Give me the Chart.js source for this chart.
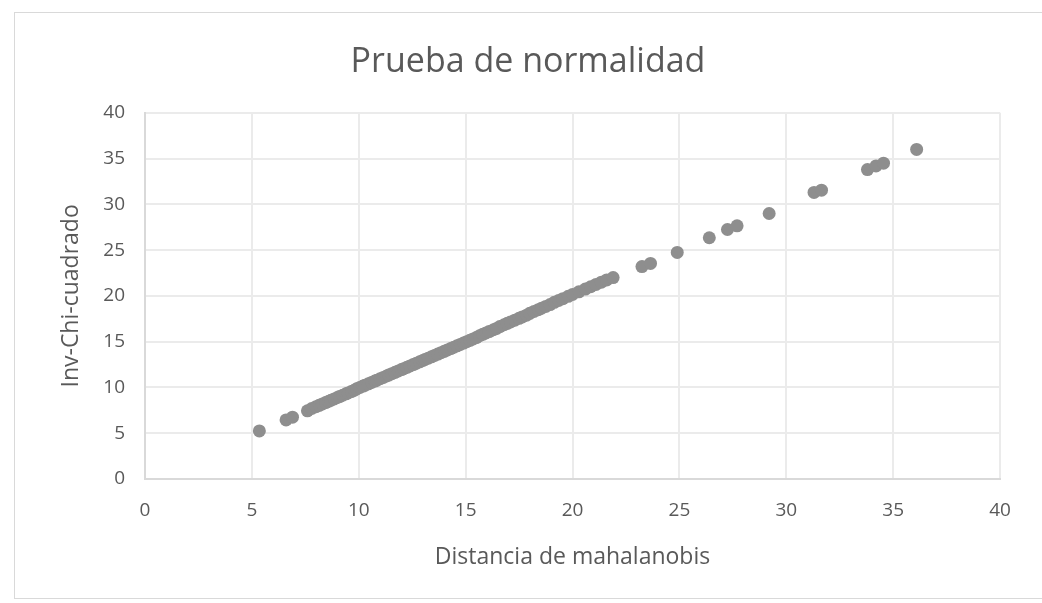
<!DOCTYPE html>
<html>
<head>
<meta charset="utf-8">
<script src="https://cdn.jsdelivr.net/npm/chart.js@4/dist/chart.umd.min.js"></script>
<style>
  html, body { margin: 0; padding: 0; background: #ffffff; }
  #wrap { position: absolute; left: 0; top: 0; width: 1042px; height: 603px; }
</style>
</head>
<body>
<div id="wrap"><canvas id="c" width="1042" height="603"></canvas></div>
<script>
// Distancia de mahalanobis (x values)
const mahalanobis = [
  5.35, 6.6, 6.9, 7.6, 7.8, 8.0, 8.15, 8.3, 8.45, 8.6, 8.7, 8.85, 9.0, 9.1, 9.25, 9.4, 9.5,
  9.65, 9.8, 9.9, 10.05, 10.2, 10.3, 10.45, 10.6, 10.75, 10.85, 11.0, 11.15, 11.3, 11.4,
  11.55, 11.7, 11.85, 12.0, 12.1, 12.25, 12.4, 12.55, 12.7, 12.85, 13.0, 13.1, 13.25, 13.4,
  13.55, 13.7, 13.85, 14.0, 14.15, 14.3, 14.45, 14.6, 14.75, 14.9, 15.05, 15.2, 15.35, 15.5,
  15.65, 15.8, 15.95, 16.1, 16.3, 16.45, 16.6, 16.8, 16.95, 17.1, 17.3, 17.5, 17.65, 17.85,
  18.0, 18.2, 18.4, 18.55, 18.75, 18.95, 19.15, 19.35, 19.55, 19.8, 20.0, 20.3, 20.6, 20.85,
  21.1, 21.35, 21.6, 21.9, 23.25, 23.65, 24.9, 26.4, 27.25, 27.7, 29.2, 31.3, 31.65, 33.8,
  34.2, 34.55, 36.1
];
// Inv-Chi-cuadrado (y values)
const invChi = [
  5.25, 6.45, 6.75, 7.45, 7.7, 7.9, 8.05, 8.2, 8.35, 8.5, 8.6, 8.75, 8.9, 9.0, 9.15, 9.3, 9.4,
  9.55, 9.7, 9.85, 10.0, 10.15, 10.25, 10.4, 10.55, 10.7, 10.8, 10.95, 11.1, 11.25, 11.35,
  11.5, 11.65, 11.8, 11.95, 12.05, 12.2, 12.35, 12.5, 12.65, 12.8, 12.95, 13.05, 13.2, 13.35,
  13.5, 13.65, 13.8, 13.95, 14.1, 14.25, 14.4, 14.55, 14.7, 14.85, 15.0, 15.15, 15.3, 15.45,
  15.65, 15.8, 15.95, 16.1, 16.3, 16.45, 16.65, 16.85, 17.0, 17.15, 17.35, 17.55, 17.7, 17.9,
  18.1, 18.3, 18.5, 18.65, 18.85, 19.05, 19.3, 19.5, 19.7, 19.95, 20.15, 20.45, 20.75, 21.0,
  21.25, 21.5, 21.75, 22.0, 23.2, 23.55, 24.75, 26.35, 27.25, 27.65, 29.0, 31.3, 31.55, 33.8,
  34.2, 34.5, 36.0
];
const xTicks = [0, 5, 10, 15, 20, 25, 30, 35, 40];
const yTicks = [0, 5, 10, 15, 20, 25, 30, 35, 40];

const points = mahalanobis.map((x, i) => ({ x: x, y: invChi[i] }));

const textColor = '#595959';
const fontFam = "'Open Sans', 'Liberation Sans', sans-serif";

const frame = {
  id: 'frame',
  beforeDraw(chart) {
    const ctx = chart.ctx;
    ctx.save();
    ctx.fillStyle = '#ffffff';
    ctx.fillRect(0, 0, chart.width, chart.height);
    ctx.strokeStyle = '#d9d9d9';
    ctx.lineWidth = 1;
    ctx.strokeRect(14.5, 12.5, 1100, 586);
    ctx.restore();
  }
};

new Chart(document.getElementById('c'), {
  type: 'scatter',
  data: {
    datasets: [{
      label: 'Inv-Chi-cuadrado',
      data: points,
      backgroundColor: '#8e8e8e',
      borderColor: '#8e8e8e',
      pointRadius: 6.5,
      pointHoverRadius: 6.5,
      borderWidth: 0
    }]
  },
  options: {
    responsive: false,
    animation: false,
    layout: { padding: { left: 56, right: 42, top: 0, bottom: 0 } },
    plugins: {
      legend: { display: false },
      tooltip: { enabled: false },
      title: {
        display: true,
        text: 'Prueba de normalidad',
        color: textColor,
        font: { family: fontFam, size: 34, weight: 'normal' },
        padding: { top: 42, bottom: 30 }
      }
    },
    scales: {
      x: {
        type: 'linear',
        min: 0, max: 40,
        afterBuildTicks(scale) { scale.ticks = xTicks.map(v => ({ value: v })); },
        afterFit(scale) { scale.height = 124; },
        grid: { color: '#ebebeb', lineWidth: 2, drawTicks: false },
        border: { color: '#d9d9d9', width: 2 },
        ticks: { color: textColor, font: { family: fontFam, size: 19 }, padding: 20, maxRotation: 0 },
        title: {
          display: true,
          text: 'Distancia de mahalanobis',
          color: textColor,
          font: { family: fontFam, size: 23 },
          padding: { top: 0, bottom: 32 }
        }
      },
      y: {
        type: 'linear',
        min: 0, max: 40,
        afterBuildTicks(scale) { scale.ticks = yTicks.map(v => ({ value: v })); },
        afterFit(scale) { scale.width = 89; },
        grid: { color: '#ebebeb', lineWidth: 2, drawTicks: false },
        border: { color: '#d9d9d9', width: 2 },
        ticks: { color: textColor, font: { family: fontFam, size: 19 }, padding: 20 },
        title: {
          display: true,
          text: 'Inv-Chi-cuadrado',
          color: textColor,
          font: { family: fontFam, size: 23 },
          padding: { top: 2, bottom: 0 }
        }
      }
    }
  },
  plugins: [frame]
});
</script>
</body>
</html>
